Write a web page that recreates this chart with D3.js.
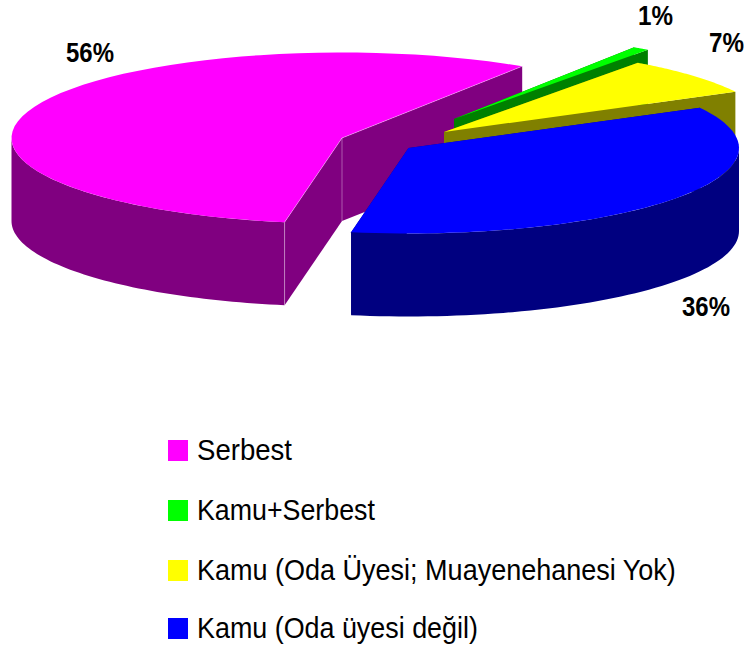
<!DOCTYPE html>
<html><head><meta charset="utf-8">
<script src="https://cdn.jsdelivr.net/npm/d3@7"></script>
<style>html,body{margin:0;background:#fff}svg{display:block}text{font-family:"Liberation Sans",Arial,sans-serif;fill:#000}</style>
</head><body><svg id="c" width="746" height="651"></svg>
<script>
const categories = ["Serbest","Kamu+Serbest","Kamu (Oda Üyesi; Muayenehanesi Yok)","Kamu (Oda üyesi değil)"];
const values = [56.4,0.8,7.2,35.6];
const valueLabels = ["56%","1%","7%","36%"];
const topColors = ["#ff00ff","#00ff00","#ffff00","#0000ff"];
const sideColors = ["#800080","#008000","#808000","#000080"];
const apexes = [[342,138],[454,119],[444,132],[408.5,148]];
const labelPos = [[66,62],[638,25],[709,52],[682,316]];
const labelWidths = [48,35,35,48];
const legendY = [440,500,560,618];
const legendWidths = [95,178,479,281];

const RX=330.5, RY=85.5, DEPTH=83;
const svg=d3.select("#c");
const arcs=d3.pie().value(d=>d).sort(null).startAngle(190*Math.PI/180).endAngle((190+360)*Math.PI/180)(values);
const rimPts=(a0,a1,dy,c)=>d3.range(0,61).map(i=>{const a=a0+(a1-a0)*i/60;return [c[0]+RX*Math.sin(a),c[1]-RY*Math.cos(a)+dy];});
const line=d3.line();
const edge="rgba(255,255,255,.35)";
function wedge(i){
  const a=arcs[i], c=apexes[i], col=sideColors[i];
  const g=svg.append("g");
  const s=rimPts(a.startAngle,a.startAngle,0,c)[0], e=rimPts(a.endAngle,a.endAngle,0,c)[0];
  const face=(p)=>g.append("path").attr("d",line([c,p,[p[0],p[1]+DEPTH],[c[0],c[1]+DEPTH]])+"Z").attr("fill",col);
  face(e); face(s);
  const P=Math.PI;
  [[P/2,3*P/2],[P/2+2*P,3*P/2+2*P]].forEach(([lo,hi])=>{
    const a0=Math.max(a.startAngle,lo),a1=Math.min(a.endAngle,hi);
    if(a1>a0){
      const top=rimPts(a0,a1,0,c),bot=rimPts(a0,a1,DEPTH,c).reverse();
      g.append("path").attr("d",line(top.concat(bot))+"Z").attr("fill",col);
    }
  });
  g.append("path").attr("d",line([c].concat(rimPts(a.startAngle,a.endAngle,0,c)))+"Z").attr("fill",topColors[i]);
  if(i===0){
    [s,c].forEach(p=>g.append("line").attr("x1",p[0]).attr("x2",p[0]).attr("y1",p[1]).attr("y2",p[1]+DEPTH).attr("stroke",edge));
    g.append("path").attr("d",line([s,c,e])).attr("fill","none").attr("stroke",edge);
  }
}
[0,1,2,3].forEach(wedge);

// Condense text horizontally to the reference's widths.
function squeezed(t,x,y,w,size,weight){
  const n=svg.append("text").attr("font-size",size).attr("font-weight",weight).text(t);
  const k=w/n.node().getComputedTextLength();
  n.attr("transform",`translate(${x},${y}) scale(${k},1)`);
}
valueLabels.forEach((t,i)=>squeezed(t,labelPos[i][0],labelPos[i][1],labelWidths[i],28,"bold"));

categories.forEach((t,i)=>{
  svg.append("rect").attr("x",168).attr("y",legendY[i]).attr("width",20).attr("height",21).attr("fill",topColors[i]);
  squeezed(t,197,legendY[i]+20,legendWidths[i],29,"normal");
});
</script></body></html>
